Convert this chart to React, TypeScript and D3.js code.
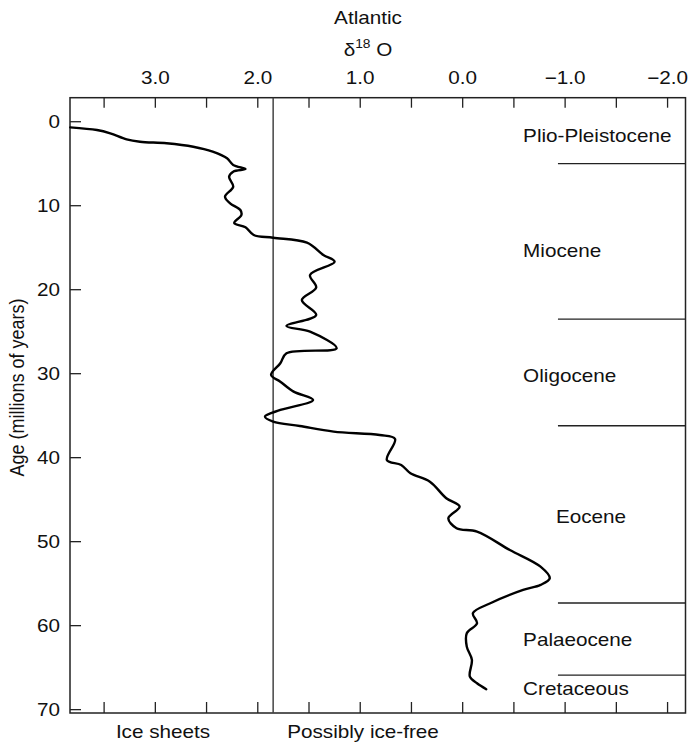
import React from "react";
import * as d3 from "d3";

// δ18O (per mil) vs age (Ma)
const d18O: number[] = [
  3.83, 3.57, 3.44, 3.28, 3.15, 2.89, 2.63, 2.44, 2.30, 2.24, 2.12, 2.24, 2.28, 2.24, 2.32, 2.27,
  2.17, 2.16, 2.23, 2.12, 2.04, 1.85, 1.52, 1.36, 1.25, 1.49, 1.43, 1.57, 1.43, 1.72, 1.49, 1.23,
  1.72, 1.78, 1.87, 1.78, 1.65, 1.46, 1.78, 1.93, 1.85, 1.59, 1.26, 0.81, 0.66, 0.74, 0.60, 0.51,
  0.32, 0.16, 0.03, 0.14, 0.06, -0.14, -0.46, -0.76, -0.85, -0.76, -0.59, -0.27, -0.10, -0.14,
  -0.04, -0.04, -0.09, -0.07, -0.14, -0.23,
];
const ages: number[] = [
  0.67, 0.99, 1.38, 2.10, 2.38, 2.57, 2.98, 3.57, 4.36, 5.15, 5.63, 5.95, 6.55, 7.74, 8.93, 9.71,
  10.51, 11.11, 12.06, 12.57, 13.49, 13.81, 14.40, 15.87, 16.67, 18.25, 19.74, 21.23, 23.01, 24.32, 25.0, 26.98,
  27.57, 28.76, 30.15, 30.95, 32.14, 33.13, 34.32, 35.10, 35.71, 36.23, 36.90, 37.30, 37.77, 40.27, 40.87, 41.86,
  42.86, 44.83, 45.83, 47.21, 48.40, 48.81, 50.99, 52.98, 54.36, 55.15, 55.75, 57.33, 58.52, 59.71,
  60.90, 62.50, 64.08, 66.07, 66.86, 67.57,
];

const xTicks: number[] = [3.5, 3.0, 2.5, 2.0, 1.5, 1.0, 0.5, 0.0, -0.5, -1.0, -1.5, -2.0];
const xTickLabels: number[] = [3.0, 2.0, 1.0, 0.0, -1.0, -2.0];
const yTicks: number[] = [0, 10, 20, 30, 40, 50, 60, 70];

const iceThreshold = 1.85;
const epochNames: string[] = ["Plio-Pleistocene", "Miocene", "Oligocene", "Eocene", "Palaeocene", "Cretaceous"];
const epochLabelAges: number[] = [1.6, 15.3, 30.2, 47.0, 61.7, 67.5];
const epochLabelX: number[] = [-0.59, -0.59, -0.59, -0.91, -0.59, -0.59];
const epochBoundaries: number[] = [5.0, 23.5, 36.2, 57.3, 65.9];
const boundaryStart = -0.93;

const W = 693;
const H = 743;
const FONT = "'Liberation Sans', Arial, Helvetica, sans-serif";
const FS = 18;
const SX = 1.15;
const TITLE_X = 368;

const x = d3.scaleLinear().domain([3.833, -2.175]).range([70, 685.5]);
const y = d3.scaleLinear().domain([-2.86, 70.4]).range([97.7, 713]);

function fmt(v: number) {
  const s = v.toFixed(1);
  return s.startsWith("-") ? "\u2212" + s.slice(1) : s;
}

function T(props: { x: number; y: number; anchor?: string; vertical?: boolean; children: React.ReactNode; size?: number }) {
  const { x: tx, y: ty, anchor = "start", vertical = false, children, size = FS } = props;
  const tr = vertical
    ? `translate(${tx},${ty}) rotate(-90) scale(1,${SX})`
    : `translate(${tx},${ty}) scale(${SX},1)`;
  return (
    <g transform={tr}>
      <text textAnchor={anchor} dominantBaseline="central" fontFamily={FONT} fontSize={size} fill="#111">
        {children}
      </text>
    </g>
  );
}

export default function App() {
  const pts: [number, number][] = d18O.map((v, i) => [v, ages[i]]);
  const line = d3
    .line<[number, number]>()
    .x((d) => x(d[0]))
    .y((d) => y(d[1]))
    .curve(d3.curveCatmullRom.alpha(0.5));
  const [x0, x1] = x.range();
  const [y0, y1] = y.range();
  return (
    <svg width={W} height={H} style={{ position: "absolute", left: 0, top: 0, background: "#fff" }}>
      <rect x={0} y={0} width={W} height={H} fill="#fff" />
      {/* titles */}
      <T x={TITLE_X} y={18} anchor="middle">Atlantic</T>
      <g transform={`translate(${TITLE_X},50) scale(${SX},1)`}>
        <text textAnchor="middle" dominantBaseline="central" fontFamily={FONT} fontSize={FS} fill="#111">
          δ<tspan dy={-7} fontSize={12}>18</tspan>
          <tspan dy={7}> O</tspan>
        </text>
      </g>
      {xTickLabels.map((v) => (
        <T key={v} x={x(v)} y={78} anchor="middle">{fmt(v)}</T>
      ))}
      {/* frame */}
      <rect x={x0} y={y0} width={x1 - x0} height={y1 - y0} fill="none" stroke="#222" strokeWidth={1.5} />
      {xTicks.map((v) => (
        <g key={v}>
          <line x1={x(v)} x2={x(v)} y1={y0} y2={y0 + 10} stroke="#222" strokeWidth={1.3} />
          <line x1={x(v)} x2={x(v)} y1={y1} y2={y1 - 11} stroke="#222" strokeWidth={1.3} />
        </g>
      ))}
      {yTicks.map((a) => (
        <g key={a}>
          <line x1={x0} x2={x0 + 11} y1={y(a)} y2={y(a)} stroke="#222" strokeWidth={1.3} />
          <T x={60} y={y(a)} anchor="end">{String(a)}</T>
        </g>
      ))}
      <T x={17} y={387.5} anchor="middle" vertical>Age (millions of years)</T>
      {/* ice threshold */}
      <line x1={x(iceThreshold)} x2={x(iceThreshold)} y1={y0} y2={y1} stroke="#444" strokeWidth={1.5} />
      {/* epochs */}
      {epochBoundaries.map((a) => (
        <line key={a} x1={x(boundaryStart)} x2={x1} y1={y(a)} y2={y(a)} stroke="#222" strokeWidth={1.3} />
      ))}
      {epochNames.map((n, i) => (
        <T key={n} x={x(epochLabelX[i])} y={y(epochLabelAges[i])}>{n}</T>
      ))}
      {/* curve */}
      <path d={line(pts) || ""} fill="none" stroke="#000" strokeWidth={2.4} strokeLinejoin="round" strokeLinecap="round" />
      {/* bottom labels */}
      <T x={163} y={732} anchor="middle">Ice sheets</T>
      <T x={363} y={732} anchor="middle">Possibly ice-free</T>
    </svg>
  );
}
